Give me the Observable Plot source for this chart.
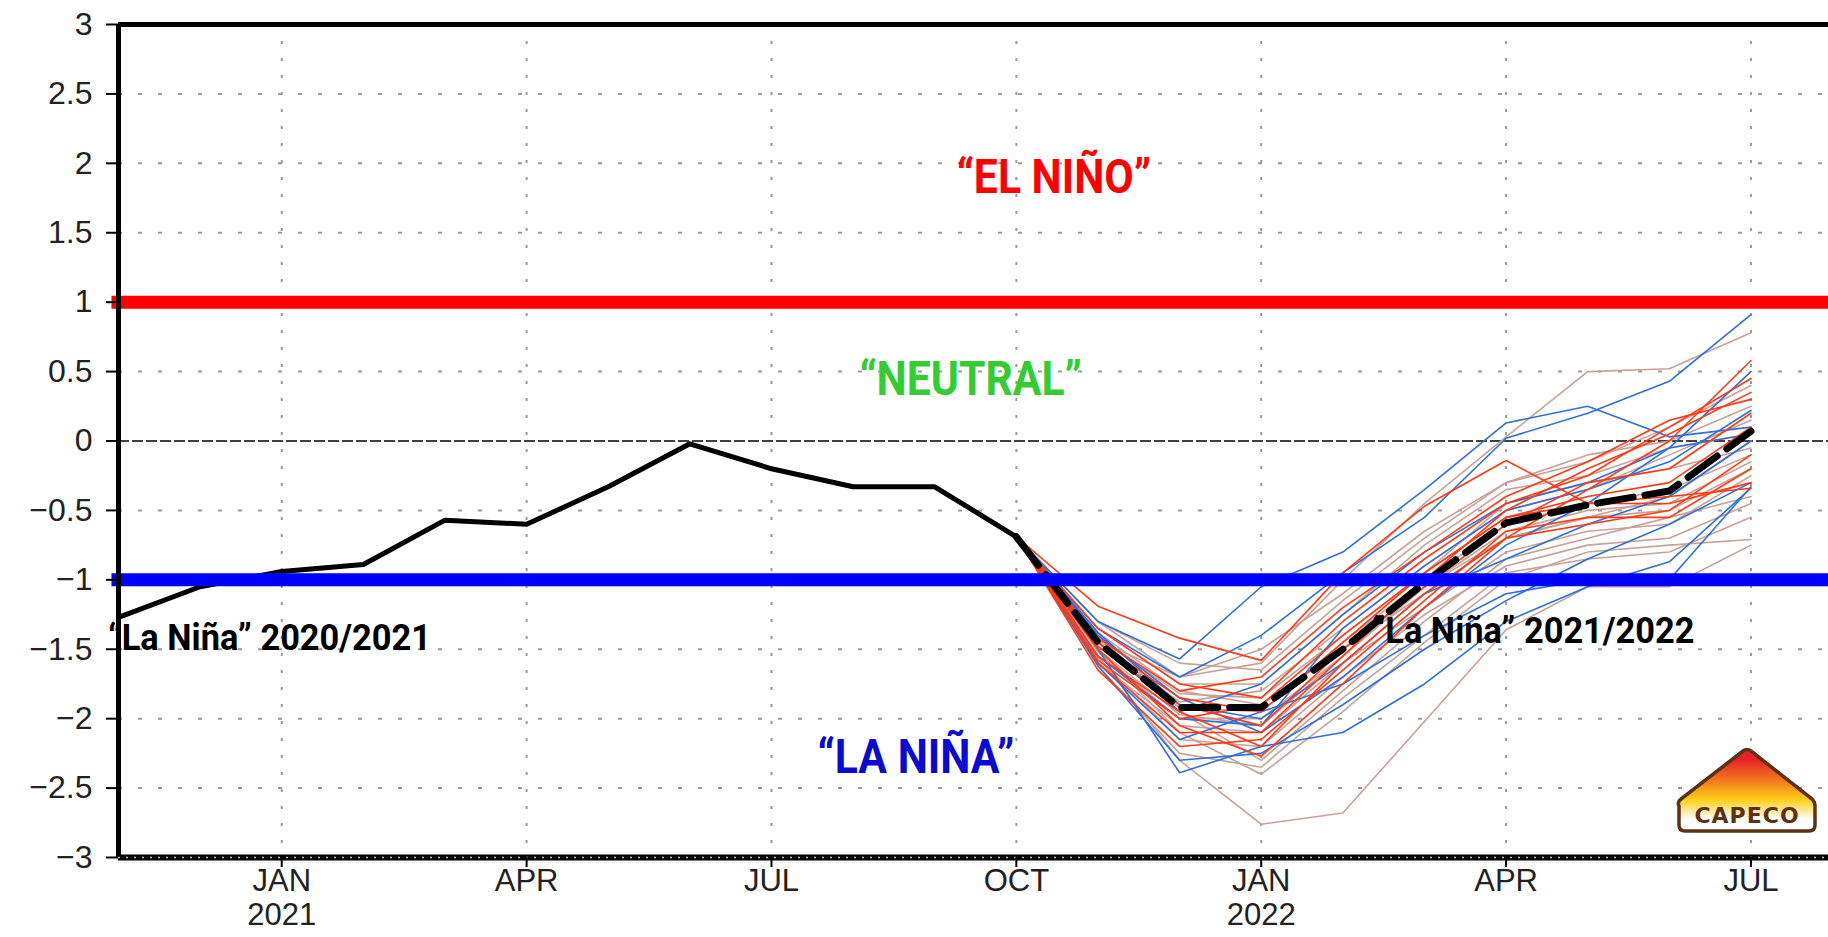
<!DOCTYPE html>
<html>
<head>
<meta charset="utf-8">
<script src="https://cdn.jsdelivr.net/npm/d3@7"></script>
<script src="https://cdn.jsdelivr.net/npm/@observablehq/plot@0.6"></script>
<style>
  html, body { margin: 0; padding: 0; background: #fff; }
  #chart { width: 1828px; height: 937px; overflow: hidden; }
</style>
</head>
<body>
<div id="chart"></div>
<script>
// Month index: 0 = NOV 2020 ... 20 = JUL 2022
const tickMonths = [2, 5, 8, 11, 14, 17, 20];
const tickLabels = ["JAN\n2021", "APR", "JUL", "OCT", "JAN\n2022", "APR", "JUL"];
const yTicks = [-3, -2.5, -2, -1.5, -1, -0.5, 0, 0.5, 1, 1.5, 2, 2.5, 3];

// Observed index, NOV 2020 .. OCT 2021
const observed = [-1.27, -1.05, -0.94, -0.89, -0.57, -0.60, -0.33, -0.02, -0.20, -0.33, -0.33, -0.69];

// Forecasts start at OCT 2021 (index 11); values below are NOV 2021 .. JUL 2022
const forecastStart = 11;
const ensembleMean = [-1.45, -1.92, -1.92, -1.50, -1.02, -0.59, -0.46, -0.36, 0.07];

const blueMembers = [
  [-1.30, -1.57, -1.05, -0.80, -0.35, 0.13, 0.25, 0.03, 0.10],
  [-1.35, -1.70, -1.40, -0.95, -0.55, 0.02, 0.20, 0.43, 0.91],
  [-1.50, -2.39, -2.20, -2.10, -1.75, -1.30, -1.05, -0.87, -0.34],
  [-1.40, -1.85, -2.10, -1.70, -1.20, -0.75, -0.45, -0.05, 0.50],
  [-1.55, -2.00, -2.05, -1.35, -0.90, -0.50, -0.35, -0.15, 0.22],
  [-1.60, -2.15, -1.95, -1.75, -1.40, -1.10, -1.00, -1.00, -0.33],
  [-1.45, -1.95, -1.75, -1.25, -0.80, -0.45, -0.30, -0.05, 0.05],
  [-1.38, -1.90, -2.00, -1.60, -1.10, -0.85, -0.60, -0.40, 0.00],
  [-1.62, -2.30, -2.25, -1.90, -1.50, -1.15, -0.85, -0.60, -0.30]
];
const redMembers = [
  [-1.19, -1.42, -1.58, -0.95, -0.47, -0.14, -0.45, -0.40, -0.34],
  [-1.50, -2.05, -2.27, -1.75, -1.20, -0.70, -0.35, 0.00, 0.58],
  [-1.60, -2.10, -2.10, -1.55, -1.00, -0.50, -0.20, 0.05, 0.35],
  [-1.45, -1.85, -1.95, -1.45, -0.95, -0.55, -0.40, -0.30, 0.10],
  [-1.65, -2.20, -2.15, -1.65, -1.15, -0.65, -0.55, -0.55, -0.20],
  [-1.35, -1.75, -1.85, -1.30, -0.85, -0.45, -0.25, 0.10, 0.45],
  [-1.55, -1.95, -2.20, -1.60, -1.10, -0.70, -0.60, -0.50, -0.10],
  [-1.42, -1.80, -1.70, -1.20, -0.80, -0.40, -0.15, 0.15, 0.30],
  [-1.58, -2.00, -1.90, -1.40, -0.95, -0.55, -0.45, -0.45, -0.30],
  [-1.48, -1.90, -2.05, -1.50, -1.05, -0.60, -0.30, -0.20, 0.20]
];
const tanMembers = [
  [-1.55, -2.30, -2.76, -2.68, -2.02, -1.36, -1.05, -1.05, -0.75],
  [-1.30, -1.70, -1.60, -1.00, -0.45, 0.03, 0.50, 0.52, 0.78],
  [-1.40, -1.95, -2.30, -1.80, -1.30, -0.85, -0.70, -0.55, -0.40],
  [-1.50, -2.10, -2.40, -1.95, -1.45, -1.00, -0.80, -0.75, -0.71],
  [-1.45, -1.88, -1.80, -1.35, -0.90, -0.50, -0.35, -0.10, 0.15],
  [-1.35, -1.75, -1.75, -1.25, -0.75, -0.35, -0.25, -0.05, 0.05],
  [-1.52, -2.00, -2.00, -1.55, -1.05, -0.65, -0.50, -0.45, -0.15],
  [-1.60, -2.05, -2.10, -1.60, -1.20, -0.80, -0.65, -0.60, -0.25],
  [-1.42, -1.82, -1.85, -1.40, -0.95, -0.45, -0.30, -0.20, -0.05],
  [-1.48, -1.92, -1.95, -1.45, -1.00, -0.60, -0.45, -0.35, -0.10],
  [-1.30, -1.60, -1.65, -1.15, -0.70, -0.30, -0.10, 0.00, 0.25],
  [-1.56, -2.15, -2.20, -1.70, -1.25, -0.90, -0.75, -0.70, -0.45],
  [-1.38, -1.80, -1.90, -1.50, -1.10, -0.70, -0.55, -0.50, -0.20],
  [-1.62, -2.25, -2.35, -1.85, -1.40, -0.95, -0.85, -0.80, -0.55],
  [-1.44, -1.70, -1.50, -1.10, -0.65, -0.30, -0.15, 0.10, 0.40],
  [-1.50, -1.97, -2.05, -1.55, -1.05, -0.70, -0.55, -0.40, 0.00]
];

const thresholds = [
  {value: 1, color: "#ff0000"},
  {value: -1, color: "#0000ff"}
];
const phaseLabels = [
  {text: "\u201cEL NI\u00d1O\u201d", x: 11.46, y: 1.90, color: "#ff0000"},
  {text: "\u201cNEUTRAL\u201d", x: 10.44, y: 0.44, color: "#33cc33"},
  {text: "\u201cLA NI\u00d1A\u201d", x: 9.77, y: -2.28, color: "#0a0ad0"}
];
const eventLabels = [
  {text: "\u201cLa Ni\u00f1a\u201d 2020/2021", x: -0.13, y: -1.42},
  {text: "\u201cLa Ni\u00f1a\u201d 2021/2022", x: 15.35, y: -1.37}
];

// ---- build tables ----
const obsRows = observed.map((v, i) => ({month: i, value: v}));
const meanRows = [{month: forecastStart, value: observed[forecastStart]}]
  .concat(ensembleMean.map((v, i) => ({month: forecastStart + 1 + i, value: v})));
function memberRows(members, tag) {
  const rows = [];
  members.forEach((m, k) => {
    rows.push({member: tag + k, month: forecastStart, value: observed[forecastStart]});
    m.forEach((v, i) => rows.push({member: tag + k, month: forecastStart + 1 + i, value: v}));
  });
  return rows;
}
const tanRows = memberRows(tanMembers, "t");
const blueRows = memberRows(blueMembers, "b");
const redRows = memberRows(redMembers, "r");
const gridYs = yTicks.filter(v => v !== 0 && Math.abs(v) !== 3 && Math.abs(v) !== 1);
const labelOf = new Map(tickMonths.map((m, i) => [m, tickLabels[i]]));
const fmtY = d => d === 0 ? "0" : (d < 0 ? "\u2212" : "") + Math.abs(d);
const boldFont = "'Liberation Sans Narrow', 'Roboto', sans-serif";

const xMax = 20.95;
const plot = Plot.plot({
  width: 1828,
  height: 937,
  marginLeft: 118,
  marginRight: 0,
  marginTop: 24,
  marginBottom: 80,
  style: {background: "#fff", fontFamily: "'Liberation Sans', Arial, sans-serif", overflow: "visible"},
  x: {domain: [0, xMax]},
  y: {domain: [-3, 3]},
  marks: [
    Plot.ruleY(gridYs, {stroke: "#9a9a9a", strokeWidth: 2, strokeDasharray: "4,16"}),
    Plot.ruleX(tickMonths, {stroke: "#9a9a9a", strokeWidth: 2, strokeDasharray: "3,14"}),
    Plot.ruleY([0], {stroke: "#000", strokeWidth: 1.5, strokeDasharray: "11,3"}),
    Plot.line(tanRows, {x: "month", y: "value", z: "member", stroke: "#c9a196", strokeWidth: 1.6}),
    Plot.line(blueRows, {x: "month", y: "value", z: "member", stroke: "#2f6fdc", strokeWidth: 1.6}),
    Plot.line(redRows, {x: "month", y: "value", z: "member", stroke: "#ff3a14", strokeWidth: 1.6}),
    Plot.line(obsRows, {x: "month", y: "value", stroke: "#000", strokeWidth: 5, strokeLinejoin: "round"}),
    Plot.line(meanRows, {x: "month", y: "value", stroke: "#000", strokeWidth: 7, strokeDasharray: "36,12"}),
    Plot.ruleY(thresholds, {y: "value", x1: () => -0.08, x2: () => xMax, stroke: "color", strokeWidth: 13}),
    Plot.ruleX([0], {stroke: "#000", strokeWidth: 5}),
    Plot.ruleY([3], {stroke: "#000", strokeWidth: 5}),
    Plot.ruleY([-3], {stroke: "#000", strokeWidth: 6}),
    Plot.ruleY([-3], {stroke: "#bbb", strokeWidth: 1.5, strokeDasharray: "2,6"}),
    Plot.axisY(yTicks, {tickSize: 12, tickPadding: 14, fontSize: 32, tickFormat: fmtY, strokeWidth: 2, fill: "#222"}),
    Plot.axisX(tickMonths, {tickSize: 10, tickPadding: 0, fontSize: 31, lineHeight: 1.08, tickFormat: m => labelOf.get(m), strokeWidth: 2, fill: "#222"}),
    Plot.text(phaseLabels, {x: "x", y: "y", text: "text", fill: "color", textAnchor: "middle", fontSize: 48,
      fontWeight: "bold", fontFamily: boldFont, className: "phase-label"}),
    Plot.text(eventLabels, {x: "x", y: "y", text: "text", fill: "#000", textAnchor: "start", fontSize: 37,
      fontWeight: "bold", fontFamily: boldFont, className: "event-label"})
  ]
});
document.getElementById("chart").appendChild(plot);

// narrow the bold labels to mimic a condensed face
function condense(selector, sx) {
  plot.querySelectorAll(selector + " text").forEach(t => {
    const tr = t.getAttribute("transform") || "";
    t.setAttribute("transform", tr + ` scale(${sx},1)`);
  });
}
condense(".phase-label", 0.89);
condense(".event-label", 0.93);

// CAPECO logo
const svg = d3.select(plot);
const defs = svg.append("defs");
const grad = defs.append("linearGradient").attr("id", "capecoGrad")
  .attr("x1", 0).attr("y1", 0).attr("x2", 0).attr("y2", 1);
grad.append("stop").attr("offset", "0.12").attr("stop-color", "#e8202a");
grad.append("stop").attr("offset", "0.40").attr("stop-color", "#f2801f");
grad.append("stop").attr("offset", "0.62").attr("stop-color", "#ffcf1a");
grad.append("stop").attr("offset", "0.86").attr("stop-color", "#ffffff");
grad.append("stop").attr("offset", "1").attr("stop-color", "#ffffff");
const logo = svg.append("g");
logo.append("path")
  .attr("d", "M1679,806 Q1677,802 1681,799 L1743,751 Q1747,748 1751,751 L1812,799 Q1815,802 1815,806 L1815,825 Q1815,831 1809,831 L1685,831 Q1679,831 1679,825 Z")
  .attr("fill", "url(#capecoGrad)")
  .attr("stroke", "#5a3216")
  .attr("stroke-width", 3.5)
  .attr("stroke-linejoin", "round");
logo.append("text")
  .attr("x", 1747).attr("y", 823)
  .attr("text-anchor", "middle")
  .attr("font-family", "'DejaVu Sans', sans-serif")
  .attr("font-weight", "bold")
  .attr("font-size", 22)
  .attr("letter-spacing", 1)
  .attr("fill", "#5a3216")
  .text("CAPECO");
</script>
</body>
</html>
